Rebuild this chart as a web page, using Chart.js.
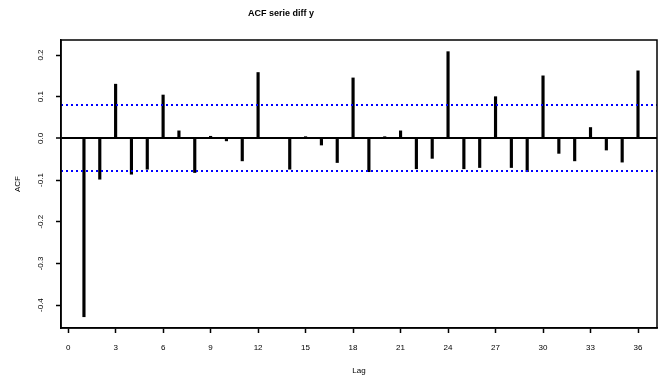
<!DOCTYPE html>
<html>
<head>
<meta charset="utf-8">
<script src="https://cdn.jsdelivr.net/npm/chart.js@4/dist/chart.umd.min.js"></script>
<style>
  html, body { margin: 0; padding: 0; background: #fff; }
  #wrap { width: 667px; height: 377px; position: relative; }
</style>
</head>
<body>
<div id="wrap"><canvas id="acfChart"></canvas></div>
<script>
// ------------------------------------------------------------
// DATA
// ------------------------------------------------------------
const chartTitle = 'ACF serie diff y';
const lags = [1, 2, 3, 4, 5, 6, 7, 8, 9, 10, 11, 12, 13, 14, 15, 16, 17, 18,
              19, 20, 21, 22, 23, 24, 25, 26, 27, 28, 29, 30, 31, 32, 33, 34, 35, 36];
const acfValues = [-0.428, -0.098, 0.130, -0.086, -0.074, 0.104, 0.018, -0.082, 0.005,
                   -0.006, -0.054, 0.158, 0.000, -0.074, 0.004, -0.016, -0.058, 0.145,
                   -0.080, 0.004, 0.018, -0.073, -0.048, 0.208, -0.073, -0.070, 0.100,
                   -0.070, -0.080, 0.150, -0.036, -0.054, 0.026, -0.028, -0.057, 0.162];
const ciBound = 0.079;
const xTicks = [0, 3, 6, 9, 12, 15, 18, 21, 24, 27, 30, 33, 36];
const yTicks = [-0.4, -0.3, -0.2, -0.1, 0.0, 0.1, 0.2];

const FONT = 'Liberation Sans, Arial, sans-serif';

// confidence bounds, box round the plot region (R's box()) and the main title
const boxPlugin = {
    id: 'rbox',
    afterDatasetsDraw(chart) {
        const { ctx, chartArea: a, scales } = chart;
        ctx.save();
        ctx.strokeStyle = '#0000ff';
        ctx.lineWidth = 2;
        ctx.setLineDash([2, 3]);
        [ciBound, -ciBound].forEach(v => {
            const y = Math.round(scales.y.getPixelForValue(v));
            ctx.beginPath();
            ctx.moveTo(a.left, y);
            ctx.lineTo(a.right, y);
            ctx.stroke();
        });
        ctx.setLineDash([]);
        ctx.strokeStyle = '#000';
        ctx.lineWidth = 1.5;
        ctx.strokeRect(a.left, a.top, a.right - a.left, a.bottom - a.top);
        ctx.restore();
    },
    afterDraw(chart) {
        const ctx = chart.ctx;
        ctx.save();
        ctx.fillStyle = '#000';
        ctx.font = 'bold 9px ' + FONT;
        ctx.textAlign = 'center';
        ctx.textBaseline = 'middle';
        ctx.fillText(chartTitle, 281, 14);
        ctx.restore();
    }
};

new Chart(document.getElementById('acfChart'), {
    type: 'bar',
    data: {
        datasets: [{
            label: 'ACF',
            data: lags.map((l, i) => ({ x: l, y: acfValues[i] })),
            backgroundColor: '#000',
            borderWidth: 0,
            barThickness: 2.5
        }]
    },
    options: {
        responsive: true,
        maintainAspectRatio: false,
        animation: false,
        devicePixelRatio: 1,
        layout: { padding: { top: 40, right: 10, left: 0, bottom: 0 } },
        plugins: {
            legend: { display: false },
            tooltip: { enabled: false }
        },
        scales: {
            x: {
                type: 'linear',
                min: -0.45,
                max: 37.2,
                offset: false,
                afterBuildTicks: s => { s.ticks = xTicks.map(v => ({ value: v })); },
                afterFit: s => { s.height = 49; },
                grid: { offset: false, drawOnChartArea: false, tickLength: 5, tickColor: '#000', tickWidth: 1.5 },
                border: { color: '#000', width: 1.5 },
                ticks: { color: '#000', font: { size: 8, family: FONT }, padding: 10, maxRotation: 0, autoSkip: false },
                title: { display: true, text: 'Lag', color: '#000', font: { size: 8, family: FONT }, padding: { top: 0, bottom: 1 } }
            },
            y: {
                min: -0.455,
                max: 0.236,
                afterBuildTicks: s => { s.ticks = yTicks.map(v => ({ value: v })); },
                afterFit: s => { s.width = 61; },
                grid: {
                    color: c => (c.tick && Math.abs(c.tick.value) < 1e-9) ? '#000' : 'rgba(0,0,0,0)',
                    lineWidth: c => (c.tick && Math.abs(c.tick.value) < 1e-9) ? 2 : 1,
                    tickLength: 5, tickColor: '#000', tickWidth: 1.5
                },
                border: { color: '#000', width: 1.5 },
                ticks: {
                    color: '#000', font: { size: 8, family: FONT },
                    minRotation: 90, maxRotation: 90, crossAlign: 'center', padding: 8,
                    callback: v => v.toFixed(1)
                },
                title: { display: true, text: 'ACF', color: '#000', font: { size: 8, family: FONT }, padding: { top: 13, bottom: 0 } }
            }
        }
    },
    plugins: [boxPlugin]
});
</script>
</body>
</html>
